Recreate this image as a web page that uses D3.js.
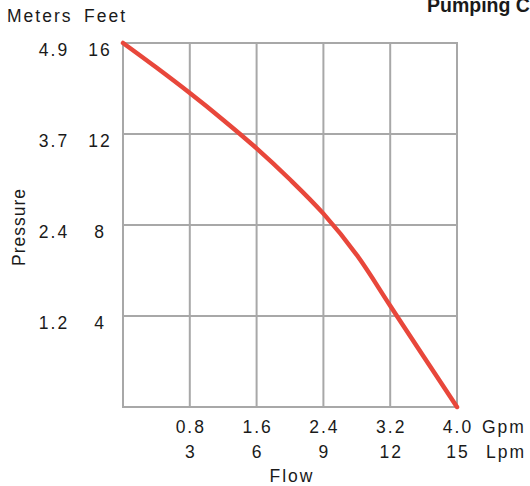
<!DOCTYPE html>
<html lang="en">
<head>
    <meta charset="UTF-8">
    <title>Pumping Curve</title>
    <script src="https://d3js.org/d3.v7.min.js"></script>
    <style>
        body {
            margin: 0;
            background: #fff;
            overflow: hidden;
        }
        svg text {
            font-family: "Liberation Sans", Arial, sans-serif;
            fill: #1a1a1a;
        }
        .lbl {
            font-size: 17.5px;
            letter-spacing: 2px;
        }
        .word {
            font-size: 17.5px;
            letter-spacing: 2px;
        }
        .title {
            font-size: 19.5px;
            font-weight: bold;
        }
    </style>
</head>
<body>
    <div id="chart"></div>
    <script>
        // Flow (Gpm) vs pressure (Feet)
        const flowGpm = [0, 0.4, 0.8, 1.2, 1.6, 2.0, 2.4, 2.8, 3.2, 3.6, 4.0];
        const headFeet = [16, 14.92, 13.8, 12.62, 11.37, 10.0, 8.5, 6.68, 4.45, 2.22, 0];

        // Tick labels
        const gpmTicks = [0.8, 1.6, 2.4, 3.2, 4.0];
        const lpmLabels = ["3", "6", "9", "12", "15"];
        const feetTicks = [4, 8, 12, 16];
        const meterLabels = ["1.2", "2.4", "3.7", "4.9"];

        const W = 530, H = 486;
        const plotLeft = 123, plotRight = 457, plotTop = 43, plotBottom = 407;

        const svg = d3.select("#chart")
            .append("svg")
            .attr("width", W)
            .attr("height", H);

        const x = d3.scaleLinear().domain([0, 4]).range([plotLeft, plotRight]);
        const y = d3.scaleLinear().domain([0, 16]).range([plotBottom, plotTop]);

        // Grid lines (including border)
        const grid = svg.append("g")
            .attr("stroke", "#a8a8a8")
            .attr("stroke-width", 2);

        grid.selectAll("line.v")
            .data([0].concat(gpmTicks))
            .enter().append("line")
            .attr("x1", d => x(d)).attr("x2", d => x(d))
            .attr("y1", y(0) + 1).attr("y2", y(16) - 1);

        grid.selectAll("line.h")
            .data([0].concat(feetTicks))
            .enter().append("line")
            .attr("y1", d => y(d)).attr("y2", d => y(d))
            .attr("x1", x(0) - 1).attr("x2", x(4) + 1);

        // Pump curve
        const line = d3.line()
            .x((d, i) => x(flowGpm[i]))
            .y(d => y(d))
            .curve(d3.curveCatmullRom);

        svg.append("path")
            .datum(headFeet)
            .attr("fill", "none")
            .attr("stroke", "#e8473b")
            .attr("stroke-width", 4.5)
            .attr("stroke-linecap", "round")
            .attr("d", line);

        // Y labels: meters and feet columns
        svg.selectAll("text.ft")
            .data(feetTicks)
            .enter().append("text")
            .attr("class", "lbl")
            .attr("x", 100)
            .attr("y", d => y(d) + 12.5)
            .attr("text-anchor", "middle")
            .text(d => d);

        svg.selectAll("text.m")
            .data(meterLabels)
            .enter().append("text")
            .attr("class", "lbl")
            .attr("x", 54)
            .attr("y", (d, i) => y(feetTicks[i]) + 12.5)
            .attr("text-anchor", "middle")
            .text(d => d);

        svg.append("text").attr("class", "word")
            .attr("x", 7).attr("y", 22).text("Meters");
        svg.append("text").attr("class", "word")
            .attr("x", 84).attr("y", 22).text("Feet");

        svg.append("text")
            .attr("class", "lbl")
            .style("letter-spacing", "1px")
            .attr("transform", `translate(25,${(plotTop + plotBottom) / 2 + 2}) rotate(-90)`)
            .attr("text-anchor", "middle")
            .text("Pressure");

        // X labels: Gpm and Lpm rows
        svg.selectAll("text.gpm")
            .data(gpmTicks)
            .enter().append("text")
            .attr("class", "lbl")
            .attr("x", d => x(d) + 1)
            .attr("y", 432.5)
            .attr("text-anchor", "middle")
            .text(d => d.toFixed(1));

        svg.selectAll("text.lpm")
            .data(lpmLabels)
            .enter().append("text")
            .attr("class", "lbl")
            .attr("x", (d, i) => x(gpmTicks[i]) + 1)
            .attr("y", 457.5)
            .attr("text-anchor", "middle")
            .text(d => d);

        svg.append("text").attr("class", "word")
            .attr("x", 482).attr("y", 432.5).text("Gpm");
        svg.append("text").attr("class", "word")
            .attr("x", 486).attr("y", 457.5).text("Lpm");

        svg.append("text").attr("class", "word")
            .attr("x", 292).attr("y", 481.5)
            .attr("text-anchor", "middle").text("Flow");

        // Title (runs off the right edge as in the original)
        svg.append("text")
            .attr("class", "title")
            .attr("x", 427)
            .attr("y", 11.5)
            .text("Pumping Curve");
    </script>
</body>
</html>
